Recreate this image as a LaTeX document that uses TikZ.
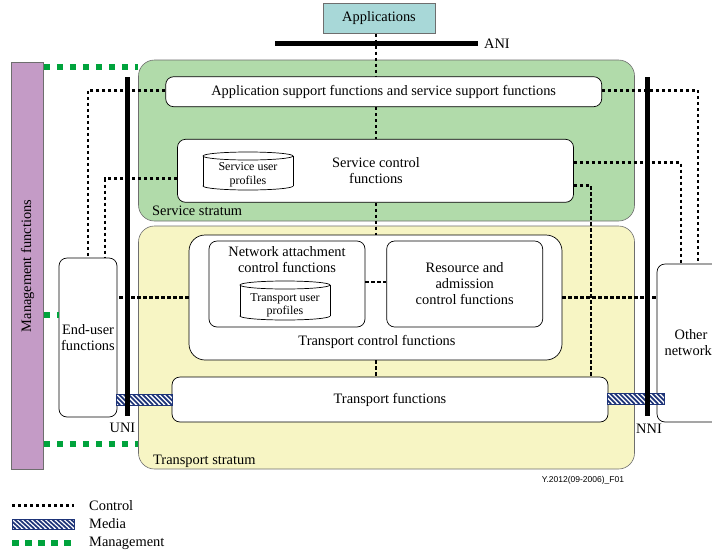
\documentclass[tikz,border=0pt]{standalone}
\usepackage{fontspec}
\setmainfont{Liberation Serif}
\newfontfamily\figsans{Liberation Sans}
\usetikzlibrary{calc}
\definecolor{svcgreen}{RGB}{177,219,170}
\definecolor{trnyellow}{RGB}{247,245,196}
\definecolor{appteal}{RGB}{168,216,216}
\definecolor{mgmtpurple}{RGB}{196,155,198}
\definecolor{mgmtgreen}{RGB}{0,163,60}
\definecolor{medianavy}{RGB}{30,52,120}
\definecolor{edgegray}{RGB}{110,110,110}
\newcommand{\mediabar}[4]{%
  \fill[white] (#1,#2) rectangle (#3,#4);
  \begin{scope}
    \clip (#1,#2) rectangle (#3,#4);
    \foreach \k in {0,...,17} {
      \draw[medianavy, line width=1.7pt] ({#1+\k*4.7-12},#2) -- ({#1+\k*4.7-12+11},#4);
    }
  \end{scope}
  \draw[medianavy, line width=0.8pt] (#1,#2) rectangle (#3,#4);
}
\begin{document}
\begin{tikzpicture}[x=1pt,y=-1pt,
  fbox/.style={draw=black, line width=0.7pt, fill=white, rounded corners=8pt, inner sep=0pt, align=center, font=\fontsize{14.4}{16}\selectfont},
  stratum/.style={draw=edgegray, line width=0.6pt, rounded corners=16pt, inner sep=0pt},
  lbl/.style={inner sep=0pt, align=center, font=\fontsize{14.4}{16}\selectfont},
  cyltext/.style={inner sep=0pt, align=center, font=\fontsize{12}{13.5}\selectfont},
  cylbody/.style={draw=black, line width=0.7pt, fill=white},
  ctrl/.style={line width=2.7pt, dash pattern=on 3.2pt off 2.8pt, black},
  mgmt/.style={line width=6pt, dash pattern=on 6.5pt off 6.5pt, mgmtgreen},
  iface/.style={line width=5pt, black}
]
\useasboundingbox (0,0) rectangle (712,555);
\clip (0,0) rectangle (712,555);
\fill[white] (0,0) rectangle (712,555);

% strata and management bar
\node[stratum, fill=svcgreen, minimum width=496pt, minimum height=161pt] (ss) at (386.5,140.5) {};
\node[stratum, fill=trnyellow, minimum width=496pt, minimum height=243pt] (ts) at (386.5,347.5) {};
\node[draw=edgegray, line width=0.6pt, fill=mgmtpurple, minimum width=32pt, minimum height=407pt, inner sep=0pt] (mgmt) at (27.5,266) {};
\node[lbl, rotate=90] at (27.5,266) {Management functions};
\node[lbl, anchor=west] at (152,211) {Service stratum};
\node[lbl, anchor=west] at (153,461) {Transport stratum};

% boxes
\node[draw=edgegray, line width=0.6pt, fill=appteal, minimum width=112pt, minimum height=30pt, inner sep=0pt, font=\fontsize{14.4}{16}\selectfont] (app) at (379,18.3) {Applications};
\node[fbox, minimum width=436pt, minimum height=30pt] (asf) at (383.7,91.7) {Application support functions and service support functions};
\node[fbox, minimum width=396pt, minimum height=63pt] (scf) at (375.5,170.8) {};
\node[lbl] at (376,171) {Service control\\functions};
\node[fbox, rounded corners=16pt, minimum width=373pt, minimum height=125pt] (tcf) at (375.5,297.5) {};
\node[lbl] at (377,342) {Transport control functions};
\node[fbox, minimum width=156pt, minimum height=86pt] (nacf) at (287,284) {};
\node[lbl] at (287,260) {Network attachment\\control functions};
\node[fbox, minimum width=156pt, minimum height=86pt] (racf) at (464.7,284) {Resource and\\admission\\control functions};
\node[fbox, minimum width=436pt, minimum height=45pt] (tf) at (390,399.5) {Transport functions};
\node[fbox, minimum width=58pt, minimum height=159pt] (euf) at (88,337.5) {End-user\\functions};
\node[fbox, minimum width=70pt, minimum height=158pt] (on) at (692,343) {};
\node[lbl] at (691,343) {Other\\networks};

% cylinders
\filldraw[cylbody] (248,186) ellipse[x radius=45,y radius=4];
\fill[white] (203,156) rectangle (293,186);
\draw[black, line width=0.7pt] (203,156) -- (203,186) (293,156) -- (293,186);
\filldraw[cylbody] (248,156) ellipse[x radius=45,y radius=4];
\node[cyltext] (sup) at (248,175) {Service user\\profiles};

\filldraw[cylbody] (285,316) ellipse[x radius=45,y radius=4];
\fill[white] (240,285) rectangle (330,316);
\draw[black, line width=0.7pt] (240,285) -- (240,316) (330,285) -- (330,316);
\filldraw[cylbody] (285,285) ellipse[x radius=45,y radius=4];
\node[cyltext] (tup) at (285,305.5) {Transport user\\profiles};

% control connectors
\coordinate (vx) at (376,0);
\draw[ctrl] (app.south -| vx) -- (asf.north -| vx);
\draw[ctrl] (asf.south -| vx) -- (scf.north -| vx);
\draw[ctrl] (scf.south -| vx) -- (tcf.north -| vx);
\draw[ctrl] (tcf.south -| vx) -- (tf.north -| vx);
\draw[ctrl] ($(asf.west)+(0,-1.5)$) -| (euf.north);
\draw[ctrl] ($(scf.west)+(0,8)$) -| ($(euf.north)+(17,0)$);
\draw[ctrl] (tcf.west) -- (tcf.west -| euf.east);
\draw[ctrl] ($(nacf.east)+(0,-2)$) -- ($(racf.west)+(0,-2)$);
\draw[ctrl] (tcf.east) -- (tcf.east -| on.west);
\draw[ctrl] ($(asf.east)+(0,-1.5)$) -| ($(on.north)+(6,0)$);
\draw[ctrl] ($(scf.east)+(0,-8)$) -| ($(on.north)+(-11,0)$);
\draw[ctrl] ($(scf.east)+(0,14.5)$) -| ($(tf.north east)+(-17.5,0)$);

% management connectors
\coordinate (m1) at ($(ss.north west)+(0,7.5)$);
\coordinate (m2) at ($(euf.west)+(0,-22.5)$);
\coordinate (m3) at ($(ts.south west)+(0,-25)$);
\draw[mgmt] (m1 -| mgmt.east) -- (m1);
\draw[mgmt] (m2 -| mgmt.east) -- (m2);
\draw[mgmt] (m3 -| mgmt.east) -- (m3);

% media
\mediabar{116.5}{394}{172}{405}
\mediabar{607.5}{393}{664}{404}

% interfaces
\coordinate (ani1) at (275,43.5);
\coordinate (ani2) at (478,43.5);
\draw[iface] (ani1) -- (ani2);
\node[lbl, anchor=west] at (484,44) {ANI};
\coordinate (uni1) at (127,77);
\coordinate (uni2) at (127,416);
\draw[iface] (uni1) -- (uni2);
\node[lbl] at (122.5,428) {UNI};
\coordinate (nni1) at (647,77);
\coordinate (nni2) at (647,416);
\draw[iface] (nni1) -- (nni2);
\node[lbl] at (649,429) {NNI};

\node[inner sep=0pt, font=\figsans\fontsize{8.5}{10}\selectfont] at (583,480) {Y.2012(09-2006)\_F01};

% legend
\coordinate (lc1) at (12,505.5);
\coordinate (lc2) at (74,505.5);
\draw[ctrl] (lc1) -- (lc2);
\node[lbl, anchor=west] at (89,505.5) {Control};
\mediabar{12}{519}{74}{529}
\node[lbl, anchor=west] at (89,524) {Media};
\coordinate (lm1) at (12,543);
\coordinate (lm2) at (74,543);
\draw[mgmt] (lm1) -- (lm2);
\node[lbl, anchor=west] at (89,543) {Management};
\end{tikzpicture}
\end{document}
